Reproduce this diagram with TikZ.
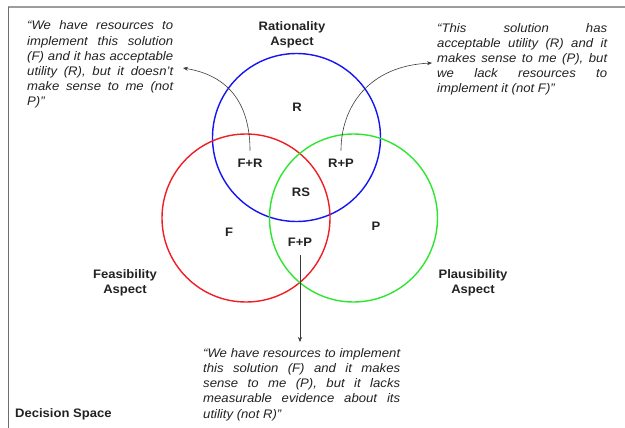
\documentclass[tikz,border=0pt]{standalone}
\usepackage{fontspec}
\setmainfont{Liberation Sans}[FakeStretch=1.06]
\usetikzlibrary{arrows.meta}

\definecolor{ink}{HTML}{222222}
\definecolor{framegray}{HTML}{9C9C9C}
\definecolor{edgegray}{HTML}{6E6E6E}
\definecolor{cblue}{HTML}{1414F5}
\definecolor{cred}{HTML}{F01E24}
\definecolor{cgreen}{HTML}{2EE62E}
\definecolor{arrowgray}{HTML}{3A3A3A}

% a justified line of fixed width
\newcommand\jl[2]{\makebox[#1][s]{#2}}
% a block of statement text whose baseline is its first line
\newcommand\stmt[2]{\parbox[t]{#1}{\fontsize{12.4}{15.1}\selectfont\itshape #2}}

\tikzset{
  setcircle/.style={circle, draw=#1, line width=1.4pt, minimum size=168pt, inner sep=0pt},
  region/.style={font=\fontsize{12.3}{15}\selectfont\bfseries, text=ink, inner sep=1pt},
  aspect/.style={font=\fontsize{12.3}{15}\selectfont\bfseries, text=ink, align=center, inner sep=0pt},
  quote/.style={text=ink, inner sep=0pt, anchor=base west},
  pointer/.style={draw=arrowgray, line width=0.6pt, -{Stealth[length=5pt,width=4pt]}}
}

\begin{document}
\begin{tikzpicture}[x=1pt, y=-1pt]
\useasboundingbox (0,0) rectangle (625,428);

% frame of the decision space
\draw[framegray, line width=1.6pt] (8,7) -- (625,7);
\draw[edgegray, line width=0.9pt] (8,7) -- (8,428);

% the three aspects
\node[setcircle=cblue] (rat) at (296.5,137.5) {};
\node[setcircle=cred] (fea) at (246,218) {};
\node[setcircle=cgreen] (pla) at (353.5,218) {};

% region labels
\node[region] (r)  at (297,107) {R};
\node[region] (fr) at (250,163) {F+R};
\node[region] (rp) at (341,163) {R+P};
\node[region] (rs) at (301,192) {RS};
\node[region] (f)  at (229,232) {F};
\node[region] (p)  at (376,226) {P};
\node[region] (fp) at (300,242) {F+P};

% aspect names (base anchor sits on the last line)
\node[aspect, anchor=base] (ratname) at (292,45.7) {Rationality\\Aspect};
\node[aspect, anchor=base] (feaname) at (125,293) {Feasibility\\Aspect};
\node[aspect, anchor=base] (planame) at (473,293) {Plausibility\\Aspect};

\node[aspect, anchor=base west] (space) at (15,417.7) {Decision Space};

% statements
\node[quote] (lq) at (27,30) {\stmt{146pt}{%
\jl{146pt}{“We have resources to}\\
\jl{146pt}{implement this solution}\\
\jl{146pt}{(F) and it has acceptable}\\
\jl{146pt}{utility (R), but it doesn’t}\\
\jl{146pt}{make sense to me (not}\\
P)”}};

\node[quote] (rq) at (437,32.6) {\stmt{170pt}{%
\jl{170pt}{“This solution has}\\
\jl{170pt}{acceptable utility (R) and it}\\
\jl{170pt}{makes sense to me (P), but}\\
\jl{170pt}{we lack resources to}\\
implement it (not F)”}};

\node[quote] (bq) at (203,357.6) {\stmt{197pt}{%
\jl{197pt}{“We have resources to implement}\\
\jl{197pt}{this solution (F) and it makes}\\
\jl{197pt}{sense to me (P), but it lacks}\\
\jl{197pt}{measurable evidence about its}\\
utility (not R)”}};

% arrow ends beside the statements
\coordinate (lqtip) at (183,68);
\coordinate (rqtip) at (432,63);
\coordinate (bqtip) at (300,342);

% connectors from the overlaps to their statements
\draw[pointer] ([yshift=7pt]fr.north) .. controls ([yshift=50pt]fr.north) and (232,76) .. (lqtip);
\draw[pointer] ([yshift=7pt]rp.north) .. controls ([yshift=50pt]rp.north) and (368,66) .. (rqtip);
\draw[pointer] ([yshift=-8pt]fp.south) -- (bqtip);
\end{tikzpicture}
\end{document}
